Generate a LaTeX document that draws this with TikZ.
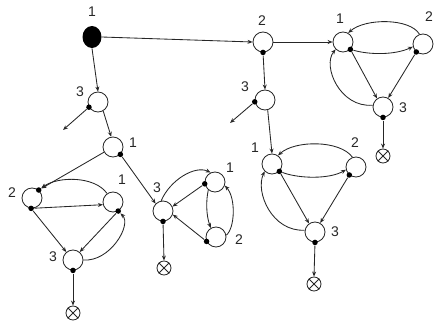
\documentclass[tikz,border=0pt]{standalone}
\usepackage{fontspec}
\setmainfont{Liberation Sans}
\usetikzlibrary{arrows.meta,shapes.geometric}
\begin{document}
\begin{tikzpicture}[x=1pt,y=-1pt,
  line width=0.85pt, draw=black!85,
  st/.style={circle,draw,minimum size=20pt,inner sep=0pt},
  dotn/.style={circle,fill=black,minimum size=5.5pt,inner sep=0pt},
  xnode/.style={circle,draw,minimum size=14pt,inner sep=0pt},
  lbl/.style={font=\fontsize{14}{14}\selectfont,text=black!85,inner sep=0pt},
  ar/.style={-{Stealth[length=5pt,width=4pt]}},
  pl/.style={-}]
\useasboundingbox (0,0) rectangle (435,329);
% nodes
\node[ellipse,fill=black,minimum width=19pt,minimum height=22pt,inner sep=0pt] (root) at (92,37) {};
\node[st] (N2) at (263,42) {};
\node[st] (A3) at (98,102) {};
\node[st] (A1) at (113,147) {};
\node[st] (L2) at (32,198) {};
\node[st] (L1) at (113,202) {};
\node[st] (L3) at (73,260) {};
\node[st] (C3) at (163,211) {};
\node[st] (C1) at (215,182) {};
\node[st] (C2) at (216,237) {};
\node[st] (R1) at (343,42) {};
\node[st] (R2) at (423,44) {};
\node[st] (R3) at (383,107) {};
\node[st] (N3) at (265,100) {};
\node[st] (M1) at (272,164) {};
\node[st] (M2) at (356,167) {};
\node[st] (M3) at (315,232) {};
\node[xnode] (X1) at (73,313) {};
\node[xnode] (X2) at (164,268) {};
\node[xnode] (X4) at (383,156) {};
\node[xnode] (X5) at (314,284) {};
\foreach \x in {X1,X2,X4,X5}{\draw (\x.45)--(\x.225) (\x.135)--(\x.-45);}
% dots
\node[dotn] (A3d) at (A3.-150) {};
\node[dotn] (A1d) at (A1.-45) {};
\node[dotn] (L2d) at (L2.-95) {};
\node[dotn] (L2t) at (L2.50) {};
\node[dotn] (L1d) at (L1.-60) {};
\node[dotn] (L3d) at (L3.-90) {};
\node[dotn] (C3d) at (C3.-90) {};
\node[dotn] (C1d) at (C1.-170) {};
\node[dotn] (C2d) at (C2.-155) {};
\node[dotn] (N2d) at (N2.-90) {};
\node[dotn] (N3d) at (N3.-170) {};
\node[dotn] (R1d) at (R1.-45) {};
\node[dotn] (R2d) at (R2.-130) {};
\node[dotn] (R3d) at (R3.-90) {};
\node[dotn] (M1d) at (M1.-45) {};
\node[dotn] (M2d) at (M2.-130) {};
\node[dotn] (M3d) at (M3.-90) {};
\coordinate (A3o) at (63,130);
\coordinate (N3o) at (230,123);
% labels
\node[lbl] at (92,12) {1};
\node[lbl] at (262,21) {2};
\node[lbl] at (80,92) {3};
\node[lbl] at (133,143) {1};
\node[lbl] at (12,193) {2};
\node[lbl] at (122,180) {1};
\node[lbl] at (53,257) {3};
\node[lbl] at (157,188) {3};
\node[lbl] at (230,168) {1};
\node[lbl] at (239,240) {2};
\node[lbl] at (340,19) {1};
\node[lbl] at (429,17) {2};
\node[lbl] at (403,108) {3};
\node[lbl] at (245,87) {3};
\node[lbl] at (255,148) {1};
\node[lbl] at (355,143) {2};
\node[lbl] at (335,232) {3};
% edges
\draw[ar] (root.east) -- (N2.west);
\draw[ar] (root.south) -- (A3.north);
\draw[ar] (A3d) -- (A3o);
\draw[ar] (A3.-60) -- (A1.100);
\draw[ar] (A1.-150) -- (L2t);
\draw[ar] (A1d) -- (C3.135);
% left group
\draw[ar] (L2d) -- (L1.-165);
\draw[ar] (L1.125) .. controls (95,176) and (58,176) .. (L2t);
\draw[ar] (L2d) -- (L3.130);
\draw[ar] (L1d) -- (L3.50);
\draw[ar] (L3.east) .. controls (110,262) and (132,225) .. (L1d);
\draw[ar] (L3d) -- (X1.north);
% C group
\draw[ar] (C1d) -- (C3.25);
\draw[ar] (C2d) -- (C3.-20);
\draw[ar] (C3.100) .. controls (170,180) and (195,165) .. (C1.115);
\draw[ar] (C1.-130) .. controls (206,200) and (206,215) .. (C2.120);
\draw[ar] (C2.10) .. controls (235,228) and (236,198) .. (C1.-20);
\draw[ar] (C3d) -- (X2.north);
% R group
\draw[ar] (N2.east) -- (R1.west);
\draw[ar] (R2.110) .. controls (410,18) and (365,18) .. (R1.60);
\draw[ar] (R1d) .. controls (370,55) and (395,55) .. (R2.-165);
\draw[ar] (R1d) -- (R3.125);
\draw[ar] (R2d) -- (R3.60);
\draw[ar] (R3.170) .. controls (340,108) and (322,66) .. (R1.-135);
\draw[ar] (R3d) -- (X4.north);
% middle chain
\draw[ar] (N2d) -- (N3.north);
\draw[ar] (N3d) -- (N3o);
\draw[ar] (N3.-75) -- (M1.north);
% M group
\draw[ar] (M2.110) .. controls (340,140) and (295,140) .. (M1.55);
\draw[ar] (M1d) .. controls (300,179) and (330,179) .. (M2.-165);
\draw[ar] (M1d) -- (M3.125);
\draw[ar] (M2d) -- (M3.60);
\draw[ar] (M3.170) .. controls (272,232) and (255,192) .. (M1.-135);
\draw[ar] (M3d) -- (X5.north);
\end{tikzpicture}
\end{document}
